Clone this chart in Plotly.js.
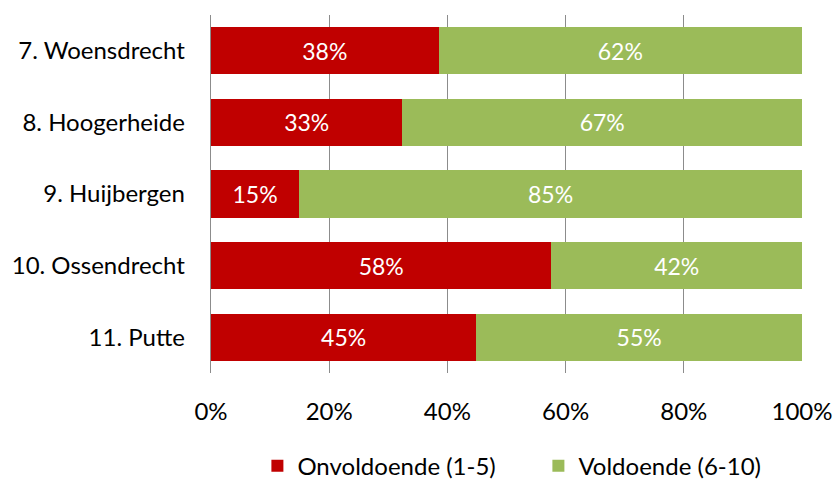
<!DOCTYPE html>
<html>
<head>
<meta charset="utf-8">
<script src="https://cdn.plot.ly/plotly-3.0.1.min.js"></script>
<style>html,body{margin:0;padding:0;background:#fff;}#chart{width:833px;height:479px;}</style>
</head>
<body>
<div id="chart"></div>
<script>
const categories = ["7. Woensdrecht", "8. Hoogerheide", "9. Huijbergen", "10. Ossendrecht", "11. Putte"];
const onvoldoende = [38.5, 32.4, 14.9, 57.6, 44.9];
const voldoende = [61.5, 67.6, 85.1, 42.4, 55.1];
const onvoldoendeLabels = ["38%", "33%", "15%", "58%", "45%"];
const voldoendeLabels = ["62%", "67%", "85%", "42%", "55%"];
const xTickVals = [0, 20, 40, 60, 80, 100];
const xTickText = ["0%", "20%", "40%", "60%", "80%", "100%"];

const font = "Lato, 'Open Sans', sans-serif";
const traces = [
  {type: "bar", orientation: "h", name: "Onvoldoende (1-5)", y: categories, x: onvoldoende,
   text: onvoldoendeLabels, textposition: "inside", insidetextanchor: "middle", constraintext: "none",
   textfont: {color: "#ffffff", size: 23, family: font},
   marker: {color: "#c00000"}, hoverinfo: "none"},
  {type: "bar", orientation: "h", name: "Voldoende (6-10)", y: categories, x: voldoende,
   text: voldoendeLabels, textposition: "inside", insidetextanchor: "middle", constraintext: "none",
   textfont: {color: "#ffffff", size: 23, family: font},
   marker: {color: "#9bbb59"}, hoverinfo: "none"}
];

const layout = {
  width: 833, height: 479,
  margin: {l: 211, r: 31, t: 15, b: 106, autoexpand: false},
  barmode: "stack", bargap: 0.34,
  paper_bgcolor: "#ffffff", plot_bgcolor: "#ffffff",
  font: {family: font, size: 24, color: "#000000"},
  showlegend: true,
  legend: {orientation: "h", x: 0.309, xanchor: "left", xref: "container", y: 0.027, yanchor: "middle", yref: "container",
           font: {size: 24, family: font, color: "#000000"}, traceorder: "normal", itemwidth: 30,
           entrywidth: 236, entrywidthmode: "pixels"},
  xaxis: {range: [0, 100], tickvals: xTickVals, ticktext: xTickText, showgrid: true,
          gridcolor: "#8c8c8c", gridwidth: 1.3, zeroline: false, showline: false,
          ticks: "", ticklabelstandoff: 22, tickfont: {size: 24, family: font}},
  yaxis: {type: "category", categoryorder: "array", categoryarray: categories, autorange: "reversed",
          showgrid: false, zeroline: false, showline: true, linecolor: "#8c8c8c", linewidth: 1.3,
          ticks: "", ticklabelstandoff: 20, tickfont: {size: 24, family: font}}
};

Plotly.newPlot("chart", traces, layout, {displayModeBar: false, staticPlot: true});
</script>
</body>
</html>
